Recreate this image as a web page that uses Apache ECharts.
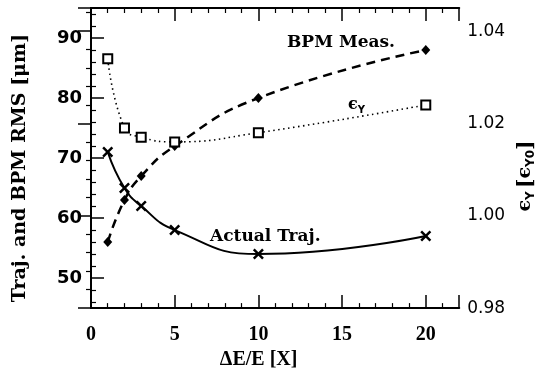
<!DOCTYPE html>
<html>
<head>
<meta charset="utf-8">
<script src="https://cdn.jsdelivr.net/npm/echarts@6/dist/echarts.min.js"></script>
<style>
  html, body { margin: 0; padding: 0; background: #fff; }
  #chart { width: 545px; height: 375px; }
</style>
</head>
<body>
<div id="chart"></div>
<script>
// energy spread dE/E [X]
var dE = [1, 2, 3, 5, 10, 20];
// left axis, um
var bpmMeas = [56, 63, 67, 72, 80, 88];
var actualTraj = [71, 65, 62, 58, 54, 57];
// right axis, eps_Y / eps_Y0
var epsY = [1.034, 1.019, 1.017, 1.016, 1.018, 1.024];

function pairs(xs, ys) {
    var out = [];
    for (var i = 0; i < xs.length; i++) {
        out.push([xs[i], ys[i]]);
    }
    return out;
}

var crossSymbol = 'path://M0,1.6L1.6,0L5,3.4L8.4,0L10,1.6L6.6,5L10,8.4L8.4,10L5,6.6L1.6,10L0,8.4L3.4,5Z';

var axisBase = {
    axisLine: { show: true, lineStyle: { color: '#000', width: 2 } },
    axisTick: { show: true, inside: true, length: 13, lineStyle: { color: '#000', width: 1.5 } },
    minorTick: { show: true, splitNumber: 5, length: 5, lineStyle: { color: '#000', width: 1.2 } },
    splitLine: { show: false }
};

var option = {
    animation: false,
    backgroundColor: '#fff',
    grid: { left: 91, right: 83, top: 8, bottom: 61 },
    xAxis: [
        Object.assign({}, axisBase, {
            type: 'value',
            min: 0,
            max: 22,
            interval: 5,
            position: 'bottom',
            name: 'ΔE/E [X]',
            nameLocation: 'middle',
            nameGap: 35,
            nameTextStyle: {
                fontFamily: 'Liberation Serif', fontWeight: 'bold', fontSize: 20, color: '#000',
                padding: [0, 33, 0, 0]
            },
            axisLabel: {
                margin: 17,
                showMaxLabel: false,
                fontFamily: 'Liberation Serif', fontWeight: 'bold', fontSize: 20, color: '#000'
            }
        }),
        Object.assign({}, axisBase, {
            type: 'value',
            min: 0,
            max: 22,
            interval: 5,
            position: 'top',
            axisLabel: { show: false }
        })
    ],
    yAxis: [
        Object.assign({}, axisBase, {
            type: 'value',
            min: 45,
            max: 95,
            splitNumber: 5,
            position: 'left',
            name: 'Traj. and BPM RMS [μm]',
            nameLocation: 'middle',
            nameGap: 61,
            nameRotate: 90,
            nameTextStyle: {
                fontFamily: 'DejaVu Serif', fontWeight: 'bold', fontSize: 19, color: '#000',
                padding: [0, 20, 0, 0]
            },
            axisLabel: {
                margin: 9,
                showMinLabel: false,
                showMaxLabel: false,
                fontFamily: 'DejaVu Sans', fontWeight: 'bold', fontSize: 18, color: '#000'
            }
        }),
        Object.assign({}, axisBase, {
            type: 'value',
            min: 0.98,
            max: 1.045,
            interval: 0.02,
            position: 'right',
            name: '{e|ϵ}{s|Y} {b|[}{e|ϵ}{s|Y0}{b|]}',
            nameLocation: 'middle',
            nameGap: 56,
            nameRotate: 90,
            nameTextStyle: {
                color: '#000',
                padding: [0, 36, 0, 0],
                rich: {
                    e: { fontFamily: 'DejaVu Serif', fontWeight: 'bold', fontSize: 19, color: '#000', verticalAlign: 'top', lineHeight: 21 },
                    s: { fontFamily: 'DejaVu Sans', fontWeight: 'bold', fontSize: 12, color: '#000', verticalAlign: 'bottom', lineHeight: 21 },
                    b: { fontFamily: 'DejaVu Serif', fontWeight: 'bold', fontSize: 20, color: '#000', lineHeight: 21 }
                }
            },
            axisLabel: {
                margin: 8,
                showMaxLabel: false,
                formatter: function (v) { return v.toFixed(2); },
                fontFamily: 'DejaVu Sans', fontSize: 17, color: '#000'
            }
        })
    ],
    series: [
        {
            name: 'BPM Meas.',
            type: 'line',
            xAxisIndex: 0,
            yAxisIndex: 0,
            smooth: true,
            data: pairs(dE, bpmMeas),
            symbol: 'diamond',
            symbolSize: [9, 10],
            itemStyle: { color: '#000' },
            lineStyle: { color: '#000', width: 2.5, type: [9, 6] },
            z: 2
        },
        {
            name: 'Actual Traj.',
            type: 'line',
            xAxisIndex: 0,
            yAxisIndex: 0,
            smooth: true,
            data: pairs(dE, actualTraj),
            symbol: crossSymbol,
            symbolSize: 11,
            itemStyle: { color: '#000' },
            lineStyle: { color: '#000', width: 2 },
            z: 3
        },
        {
            name: 'epsY',
            type: 'line',
            xAxisIndex: 0,
            yAxisIndex: 1,
            smooth: true,
            data: pairs(dE, epsY),
            symbol: 'rect',
            symbolSize: 9,
            itemStyle: { color: '#fff', borderColor: '#000', borderWidth: 2 },
            lineStyle: { color: '#000', width: 1.6, type: [1.5, 3.5] },
            z: 4
        }
    ],
    graphic: [
        {
            type: 'text',
            left: 287,
            top: 34,
            style: { text: 'BPM Meas.', font: 'bold 17px "DejaVu Serif"', fill: '#000' }
        },
        {
            type: 'text',
            left: 348,
            top: 97,
            style: {
                text: '{e|ϵ}{s|Y}',
                rich: {
                    e: { font: 'bold 16px "DejaVu Serif"', fill: '#000', verticalAlign: 'top', lineHeight: 18 },
                    s: { font: 'bold 10px "DejaVu Sans"', fill: '#000', verticalAlign: 'bottom', lineHeight: 18 }
                }
            }
        },
        {
            type: 'text',
            left: 210,
            top: 228,
            style: { text: 'Actual Traj.', font: 'bold 17px "DejaVu Serif"', fill: '#000' }
        }
    ]
};

var chart = echarts.init(document.getElementById('chart'));
chart.setOption(option);
window.addEventListener('resize', function () {
    chart.resize();
});
</script>
</body>
</html>
